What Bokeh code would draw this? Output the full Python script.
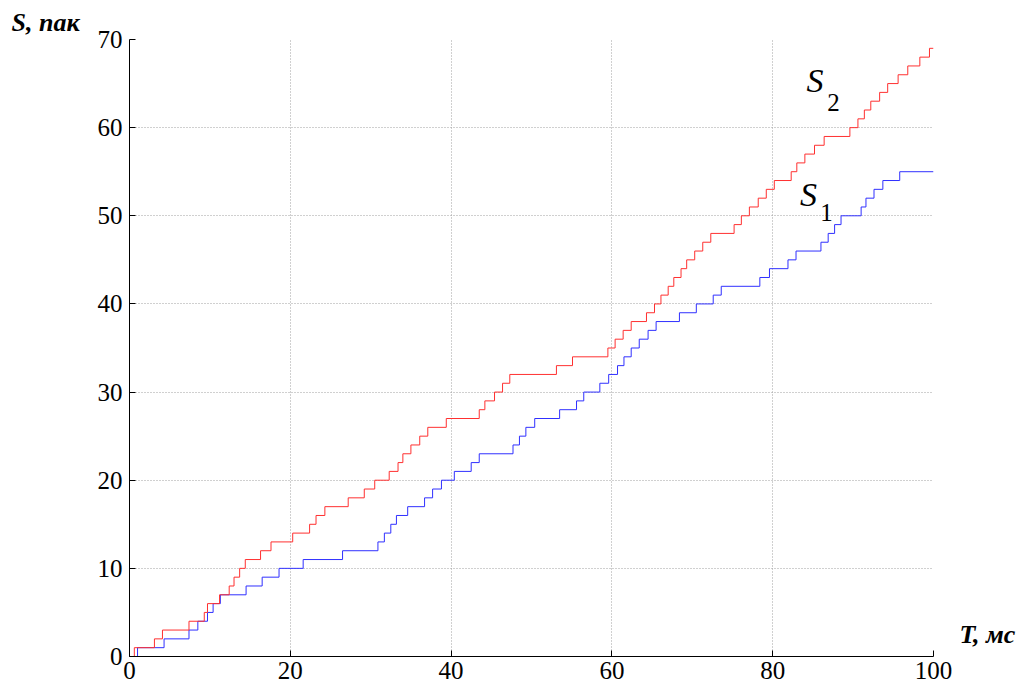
from bokeh.plotting import figure
from bokeh.models import Label, FixedTicker, Range1d, Title, LinearAxis
from bokeh.embed import file_html
from bokeh.resources import INLINE

# S1 (blue): step times (ms) and cumulative packets after each step
t1 = [0, 1.0, 4.3, 7.4, 8.5, 9.7, 10.4, 11.3, 14.5, 16.5, 18.6, 21.6, 26.5, 30.9, 31.7,
      32.5, 33.2, 34.6, 36.7, 37.7, 38.8, 40.4, 42.5, 43.5, 47.7, 48.5, 49.3, 50.4, 53.5,
      55.6, 56.5, 58.5, 59.6, 60.7, 61.5, 62.4, 63.4, 64.5, 65.5, 68.4, 70.5, 72.6, 73.6,
      78.4, 79.6, 81.9, 82.9, 86.0, 86.9, 87.7, 88.5, 91.0, 91.6, 92.6, 93.7, 95.8, 100]
s1 = [0, 1, 2, 3, 4, 5, 6, 7, 8, 9, 10, 11, 12, 13, 14,
      15, 16, 17, 18, 19, 20, 21, 22, 23, 24, 25, 26, 27, 28,
      29, 30, 31, 32, 33, 34, 35, 36, 37, 38, 39, 40, 41, 42,
      43, 44, 45, 46, 47, 48, 49, 50, 51, 52, 53, 54, 55, 55]

# S2 (red)
t2 = [0, 0.6, 3.1, 4.1, 7.4, 9.3, 9.7, 11.2, 12.4, 13.0, 13.7, 14.4, 16.3, 17.6, 20.3,
      22.4, 23.2, 24.3, 27.2, 29.2, 30.5, 32.3, 33.4, 34.0, 35.0, 36.1, 37.1, 39.4, 43.5,
      44.2, 45.4, 46.4, 47.3, 53.1, 55.1, 59.5, 60.4, 61.4, 62.4, 64.3, 65.3, 66.1, 67.0,
      67.7, 68.6, 69.3, 70.3, 71.3, 72.3, 75.2, 76.1, 77.1, 78.2, 79.2, 80.2, 82.3, 83.0,
      84.0, 85.2, 86.4, 89.6, 90.6, 91.4, 92.2, 93.3, 94.3, 95.6, 96.8, 98.3, 99.5, 100]
s2 = [0, 1, 2, 3, 4, 5, 6, 7, 8, 9, 10, 11, 12, 13, 14,
      15, 16, 17, 18, 19, 20, 21, 22, 23, 24, 25, 26, 27, 28,
      29, 30, 31, 32, 33, 34, 35, 36, 37, 38, 39, 40, 41, 42,
      43, 44, 45, 46, 47, 48, 49, 50, 51, 52, 53, 54, 55, 56,
      57, 58, 59, 60, 61, 62, 63, 64, 65, 66, 67, 68, 69, 69]

x_ticks = [0, 20, 40, 60, 80, 100]
y_ticks = [0, 10, 20, 30, 40, 50, 60, 70]

x_caption = "T, мс"
y_caption = "S, пак"
x_caption_level = 2.5

SERIF = "Liberation Serif"

p = figure(frame_width=804, frame_height=617,
           min_border_left=129, min_border_right=84,
           min_border_top=39, min_border_bottom=35,
           x_range=Range1d(0, 100), y_range=Range1d(0, 70),
           output_backend="svg", toolbar_location=None)
p.outline_line_color = None
p.background_fill_color = "white"
p.border_fill_color = "white"

for ax, ticks in ((p.xaxis, x_ticks), (p.yaxis, y_ticks)):
    ax.ticker = FixedTicker(ticks=ticks)
    ax.major_tick_in = 6
    ax.major_tick_out = 0
    ax.minor_tick_line_color = None
    ax.axis_line_color = "black"
    ax.major_tick_line_color = "black"
    ax.major_label_text_font = SERIF
    ax.major_label_text_font_size = "25px"
    ax.major_label_text_color = "black"
p.xaxis.major_label_standoff = 5
p.yaxis.major_label_standoff = 7

for g, ticks in ((p.xgrid, x_ticks), (p.ygrid, y_ticks)):
    g.ticker = FixedTicker(ticks=ticks)
    g.grid_line_color = "#a0a0a0"
    g.grid_line_dash = "1 2"
    g.grid_line_width = 1

p.step(t1, s1, mode="after", line_color="#3030ff", line_width=1)
p.step(t2, s2, mode="after", line_color="#ff3030", line_width=1)

# y caption at top-left
p.add_layout(Title(text=y_caption, align="left", offset=-118, standoff=6,
                   text_font=SERIF, text_font_style="bold italic",
                   text_font_size="26px", text_color="black"), "above")

# x caption at bottom-right, as the only label of an invisible right axis
cap_axis = LinearAxis(ticker=FixedTicker(ticks=[x_caption_level]),
                      major_label_overrides={x_caption_level: x_caption},
                      axis_line_color=None, major_tick_line_color=None,
                      minor_tick_line_color=None, major_label_standoff=20,
                      major_label_text_font=SERIF, major_label_text_font_style="bold italic",
                      major_label_text_font_size="26px", major_label_text_color="black")
p.add_layout(cap_axis, "right")

# curve labels
p.add_layout(Label(x=84.2, y=65.4, text="S", text_font=SERIF, text_font_style="italic",
                   text_font_size="34px", text_baseline="middle", text_color="black"))
p.add_layout(Label(x=86.8, y=62.9, text="2", text_font=SERIF,
                   text_font_size="25px", text_baseline="middle", text_color="black"))
p.add_layout(Label(x=83.4, y=52.4, text="S", text_font=SERIF, text_font_style="italic",
                   text_font_size="34px", text_baseline="middle", text_color="black"))
p.add_layout(Label(x=85.9, y=50.4, text="1", text_font=SERIF,
                   text_font_size="25px", text_baseline="middle", text_color="black"))

open("out.html", "w").write(file_html(p, INLINE))
